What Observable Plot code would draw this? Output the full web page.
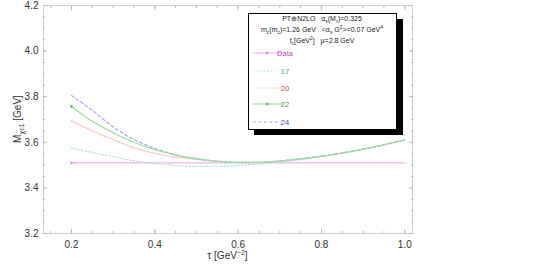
<!DOCTYPE html>
<html>
<head>
<meta charset="utf-8">
<script src="https://cdn.jsdelivr.net/npm/d3@7"></script>
<script src="https://cdn.jsdelivr.net/npm/@observablehq/plot@0.6"></script>
<style>
  body { margin: 0; background: #fff; }
  svg { font-family: "Liberation Sans", sans-serif; }
</style>
</head>
<body>
<div id="chart"></div>
<script>
// ---- data ----
const tau = [0.2, 0.25, 0.3, 0.35, 0.4, 0.45, 0.5, 0.55, 0.6, 0.65, 0.7, 0.75, 0.8, 0.85, 0.9, 0.95, 1.0];
const m17 = [3.574, 3.555, 3.537, 3.519, 3.507, 3.498, 3.494, 3.495, 3.499, 3.505, 3.513, 3.524, 3.537, 3.553, 3.570, 3.589, 3.611];
const m20 = [3.695, 3.650, 3.612, 3.576, 3.552, 3.536, 3.525, 3.516, 3.511, 3.512, 3.518, 3.527, 3.539, 3.553, 3.570, 3.589, 3.611];
const m22 = [3.757, 3.692, 3.642, 3.600, 3.568, 3.545, 3.528, 3.517, 3.512, 3.512, 3.518, 3.527, 3.539, 3.553, 3.570, 3.589, 3.611];
const m24 = [3.805, 3.740, 3.668, 3.612, 3.574, 3.545, 3.527, 3.517, 3.512, 3.512, 3.518, 3.527, 3.539, 3.553, 3.570, 3.589, 3.611];
const dataTau = [0.2, 1.0];
const dataMass = [3.51, 3.51];
const seriesNames = ["Data", "17", "20", "22", "24"];
const xTicks = [0.2, 0.4, 0.6, 0.8, 1.0];
const yTicks = [3.2, 3.4, 3.6, 3.8, 4.0, 4.2];
const legendLines = [
  [["PT⊕N2LO   α", ""], ["s", "sub"], ["(M", ""], ["τ", "sub"], [")=0.325", ""]],
  [["m", ""], ["c", "sub"], ["(m", ""], ["c", "sub"], [")=1.26 GeV   <α", ""], ["s", "sub"], [" G", ""], ["2", "sup"], [">=0.07 GeV", ""], ["4", "sup"]],
  [["t", ""], ["c", "sub"], ["[GeV", ""], ["2", "sup"], ["]   μ=2.8 GeV", ""]]
];

// ---- styles ----
const styles = {
  "Data": {stroke: "#f0b4f0", dash: null, text: "#c43cc4"},
  "17":   {stroke: "#b4e2e2", dash: "1.5,2", text: "#3a9ea6"},
  "20":   {stroke: "#f2bcbc", dash: "1.5,1.5", text: "#c04848"},
  "22":   {stroke: "#98e098", dash: null, text: "#3a9e3a"},
  "24":   {stroke: "#a4acec", dash: "3,2.5", text: "#4848b0"}
};

const toRows = (arr) => tau.map((t, i) => ({tau: t, m: arr[i]}));
const rows = {
  "17": toRows(m17), "20": toRows(m20), "22": toRows(m22), "24": toRows(m24),
  "Data": dataTau.map((t, i) => ({tau: t, m: dataMass[i]}))
};

const minorX = d3.range(0.15, 1.001, 0.05).map(v => +v.toFixed(2));
const minorY = d3.range(3.2, 4.201, 0.05).map(v => +v.toFixed(2));
const tickCol = "#bdbdbd";

const lineMark = (name) => Plot.line(rows[name], {
  x: "tau", y: "m", stroke: styles[name].stroke, strokeWidth: 1.2,
  strokeDasharray: styles[name].dash, curve: "monotone-x"
});

const plot = Plot.plot({
  width: 545, height: 271,
  marginLeft: 43, marginRight: 133, marginTop: 5, marginBottom: 38,
  x: {domain: [0.1328, 1.0185]},
  y: {domain: [3.2, 4.2]},
  style: {fontFamily: "Liberation Sans, sans-serif", fontSize: "10px", color: "#333"},
  marks: [
    Plot.frame({stroke: "#cfcfcf"}),
    // minor ticks
    Plot.axisX({anchor: "bottom", ticks: minorX, tickSize: -2, tickFormat: () => "", label: null, stroke: tickCol}),
    Plot.axisX({anchor: "top", ticks: minorX, tickSize: -2, tickFormat: () => "", label: null, stroke: tickCol}),
    Plot.axisY({anchor: "left", ticks: minorY, tickSize: -2, tickFormat: () => "", label: null, stroke: tickCol}),
    Plot.axisY({anchor: "right", ticks: minorY, tickSize: -2, tickFormat: () => "", label: null, stroke: tickCol}),
    // major ticks
    Plot.axisX({anchor: "bottom", ticks: xTicks, tickSize: -4, tickFormat: () => "", label: null, stroke: tickCol}),
    Plot.axisX({anchor: "top", ticks: xTicks, tickSize: -4, tickFormat: () => "", label: null, stroke: tickCol}),
    Plot.axisY({anchor: "left", ticks: yTicks, tickSize: -4, tickFormat: () => "", label: null, stroke: tickCol}),
    Plot.axisY({anchor: "right", ticks: yTicks, tickSize: -4, tickFormat: () => "", label: null, stroke: tickCol}),
    // labels
    Plot.axisX({anchor: "bottom", ticks: xTicks, tickSize: 0, tickPadding: 7, tickFormat: d3.format(".1f"), label: null, fill: "#333"}),
    Plot.axisY({anchor: "left", ticks: yTicks, tickSize: 0, tickPadding: 5, tickFormat: d3.format(".1f"), label: null, fill: "#333"}),
    // series
    lineMark("Data"),
    lineMark("17"),
    lineMark("20"),
    lineMark("24"),
    lineMark("22"),
    Plot.dot(rows["Data"].slice(0, 1), {x: "tau", y: "m", r: 1.4, fill: "#e090e0"}),
    Plot.dot(rows["22"].slice(0, 1), {x: "tau", y: "m", r: 1.4, fill: "#60c860"})
  ]
});

document.getElementById("chart").appendChild(plot);
const svg = d3.select(plot);
// drop the empty labels of the tick-only axes
svg.selectAll("text").filter(function () { return this.textContent.trim() === ""; }).remove();

function richText(g, parts, x, y, size, anchor, fill) {
  const t = g.append("text").attr("x", x).attr("y", y).attr("font-size", size)
    .attr("text-anchor", anchor).attr("fill", fill);
  let shift = 0; // current baseline offset
  parts.forEach(([s, kind]) => {
    const target = kind === "sub" ? size * 0.25 : kind === "sup" ? -size * 0.4 : 0;
    const ts = t.append("tspan").text(s);
    if (target !== shift) ts.attr("dy", target - shift);
    if (kind) ts.attr("font-size", size * 0.7);
    shift = target;
  });
  return t;
}

// axis titles
richText(svg, [["τ [GeV", ""], ["−2", "sup"], ["]", ""]], 227.5, 259, 10, "middle", "#333");
const yl = svg.append("g").attr("transform", "translate(21,119) rotate(-90)");
richText(yl, [["M", ""], ["χc1", "sub"], [" [GeV]", ""]], 0, 0, 10, "middle", "#333");

// legend box
const lg = svg.append("g");
lg.append("rect").attr("x", 254).attr("y", 19).attr("width", 149).attr("height", 116).attr("fill", "#000");
lg.append("rect").attr("x", 248.5).attr("y", 13.5).attr("width", 148).attr("height", 116).attr("fill", "#fff").attr("stroke", "#000").attr("stroke-width", 1);
const lineYs = [21, 32, 43];
legendLines.forEach((parts, i) => richText(lg, parts, 322, lineYs[i], 7, "middle", "#222"));
const itemYs = [53, 71, 88, 104, 122];
seriesNames.forEach((name, i) => {
  const st = styles[name];
  const y = itemYs[i];
  lg.append("line").attr("x1", 253).attr("x2", 282).attr("y1", y).attr("y2", y)
    .attr("stroke", st.stroke).attr("stroke-width", 1.2)
    .attr("stroke-dasharray", st.dash);
  if (name === "Data" || name === "22") {
    lg.append("circle").attr("cx", 267).attr("cy", y).attr("r", 1.4).attr("fill", name === "Data" ? "#e090e0" : "#60c860");
  }
  lg.append("text").attr("x", 285).attr("y", y + 2.7).attr("font-size", 7.5).attr("fill", st.text).text(name);
});
</script>
</body>
</html>
